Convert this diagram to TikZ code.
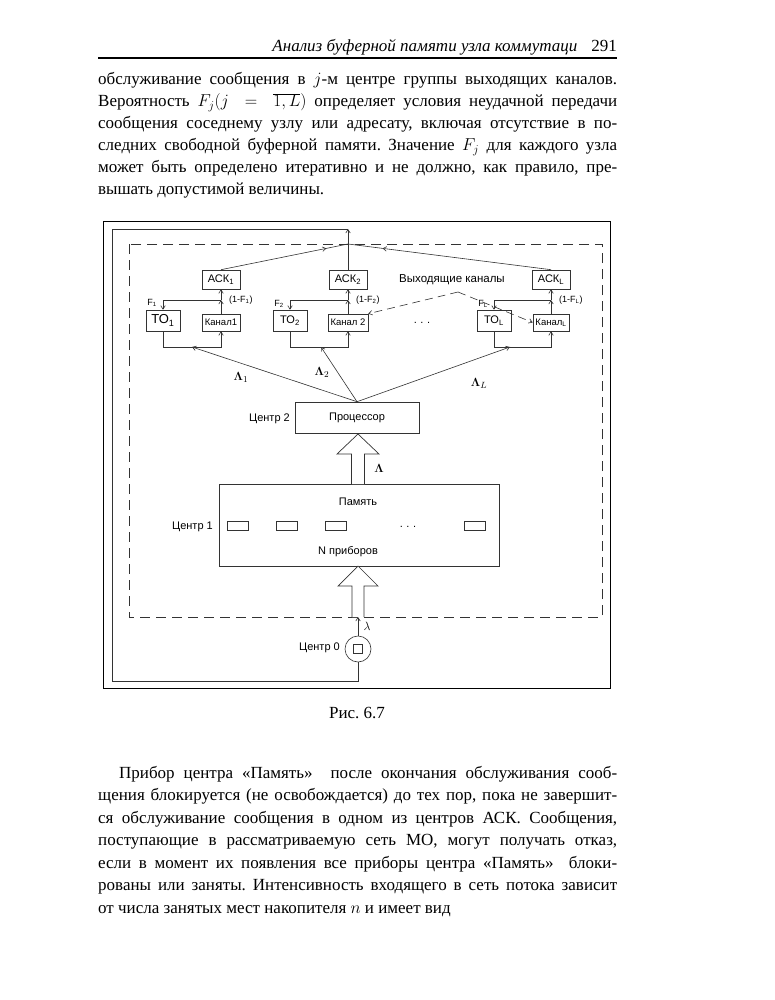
\documentclass[tikz,border=0pt]{standalone}
\usepackage[no-math]{fontspec}
\setmainfont{Liberation Serif}
\newfontfamily\dfont{Liberation Sans}
\usetikzlibrary{arrows.meta, positioning, decorations.markings}
\frenchspacing

\tikzset{
  ln/.style={line width=0.6pt, draw=black!80},
  arr/.style={ln, -{Straight Barb[length=3.5pt,width=4.5pt]}},
  midarr/.style={postaction={decorate}, decoration={markings, mark=at position #1 with {\arrow{Straight Barb[length=3.5pt,width=4.5pt]}}}},
  blk/.style={draw=black!80, line width=0.6pt, inner sep=0pt, font=\dfont\fontsize{11}{11}\selectfont},
  lbl/.style={inner sep=0pt, font=\dfont\fontsize{11}{11}\selectfont},
  small/.style={inner sep=0pt, font=\dfont\fontsize{9}{9}\selectfont},
  txt/.style={anchor=base west, inner sep=0pt, font=\fontsize{17}{22}\selectfont},
  fat/.style={draw=black!80, line width=0.7pt, fill=white},
}

\begin{document}
\begin{tikzpicture}[x=1pt, y=-1pt]
    % Page size
    \fill[white] (0,0) rectangle (774,1000);
    \useasboundingbox (0,0) rectangle (774,1000);
    \def\tw{519pt}

    % Running head
    \node[anchor=base east, inner sep=0pt, font=\fontsize{17}{22}\selectfont] (head) at (617,52)
        {\textit{Анализ буферной памяти узла коммутаци}\hspace{14pt}291};
    \draw[line width=1.2pt] (98,58) -- (617,58);

    % Text above the figure
    \node[txt] (p1) at (98,85) {\makebox[\tw][s]{обслуживание сообщения в $j$-м центре группы выходящих каналов.}};
    \node[txt] (p2) at (98,107) {\makebox[\tw][s]{Вероятность $F_j(j\,=\,\overline{1,L})$ определяет условия неудачной передачи}};
    \node[txt] (p3) at (98,129) {\makebox[\tw][s]{сообщения соседнему узлу или адресату, включая отсутствие в по-}};
    \node[txt] (p4) at (98,151) {\makebox[\tw][s]{следних свободной буферной памяти. Значение $F_j$ для каждого узла}};
    \node[txt] (p5) at (98,173) {\makebox[\tw][s]{может быть определено итеративно и не должно, как правило, пре-}};
    \node[txt] (p6) at (98,195) {вышать допустимой величины.};

    % Figure frame and the dashed network border
    \draw[line width=1pt] (103,222) rectangle (610,688);
    \draw[ln, dash pattern=on 10pt off 6pt] (129,244) rectangle (602,617);

    % Output channels: ACK, TO and channel boxes
    \node[blk, minimum width=38pt, minimum height=19pt] (A1) at (221,279.5) {АСК\textsubscript{1}};
    \node[blk, minimum width=38pt, minimum height=19pt] (A2) at (348,279.5) {АСК\textsubscript{2}};
    \node[blk, minimum width=38pt, minimum height=19pt] (AL) at (551,279.5) {АСК\textsubscript{L}};
    \node[blk, minimum width=34pt, minimum height=21pt, font=\dfont\fontsize{13}{13}\selectfont] (T1) at (163,320.5) {ТО\textsubscript{1}};
    \node[blk, minimum width=34pt, minimum height=21pt, font=\dfont\fontsize{11}{11}\selectfont] (T2) at (290,320.5) {ТО\textsubscript{2}};
    \node[blk, minimum width=34pt, minimum height=21pt, font=\dfont\fontsize{11}{11}\selectfont] (TL) at (494,320.5) {ТО\textsubscript{L}};
    \node[blk, minimum width=38pt, minimum height=17pt, font=\dfont\fontsize{9.5}{9.5}\selectfont] (K1) at (221,322.5) {Канал1};
    \node[blk, minimum width=40pt, minimum height=17pt, font=\dfont\fontsize{9.5}{9.5}\selectfont] (K2) at (348,322.5) {Канал 2};
    \node[blk, minimum width=36pt, minimum height=17pt, font=\dfont\fontsize{9.5}{9.5}\selectfont] (KL) at (551,322.5) {Канал\textsubscript{L}};
    \node[inner sep=0pt, font=\dfont\fontsize{11}{11}\selectfont] (dots1) at (422,323) {.\,\,.\,\,.};

    % Branch points of the feedback F_j
    \coordinate (b1) at (221,300);
    \coordinate (b2) at (348,300);
    \coordinate (bL) at (551,300);
    \draw[arr] (K1.north) -- (b1);
    \draw[arr] (b1) -- (A1.south);
    \draw[arr] (b1) -| (T1.north);
    \draw[arr] (K2.north) -- (b2);
    \draw[arr] (b2) -- (A2.south);
    \draw[arr] (b2) -| (T2.north);
    \draw[arr] (KL.north) -- (bL);
    \draw[arr] (bL) -- (AL.south);
    \draw[arr] (bL) -| (TL.north);
    \node[small] (f1) at (152,303) {F\textsubscript{1}};
    \node[small] (f2) at (279,304) {F\textsubscript{2}};
    \node[small] (fL) at (483,304) {F\textsubscript{L}};
    \node[small, anchor=west] (g1) at (229,300) {(1-F\textsubscript{1})};
    \node[small, anchor=west] (g2) at (356,300) {(1-F\textsubscript{2})};
    \node[small, anchor=west] (gL) at (559,300) {(1-F\textsubscript{L})};

    % Lines below TO and channel boxes
    \draw[arr] (T1.south) -- ++(0,16) -| (K1.south);
    \draw[arr] (T2.south) -- ++(0,16) -| (K2.south);
    \draw[arr] (TL.south) -- ++(0,16) -| (KL.south);
    \coordinate (j1) at (192,347);
    \coordinate (j2) at (321,347);
    \coordinate (jL) at (510,347);

    % Collecting point and the return loop
    \coordinate (C) at (348,244);
    \coordinate (top) at (348,229);
    \draw[ln, midarr=0.83] (A1.north) -- (C);
    \draw[ln] (A2.north) -- (C);
    \draw[ln, midarr=0.83] (AL.north) -- (C);
    \draw[arr] (C) -- (top);

    % Label of the output channels
    \node[lbl, font=\dfont\fontsize{11.5}{11.5}\selectfont] (out) at (452,280) {Выходящие каналы};
    \coordinate (ap) at (458,292);
    \draw[arr, dash pattern=on 8pt off 5pt] (ap) -- (K2.north east);
    \draw[arr, dash pattern=on 8pt off 5pt] (ap) -- (KL.west);

    % Processor
    \node[blk, minimum width=124pt, minimum height=31pt] (P) at (357,417.5) {Процессор};
    \node[lbl, anchor=east] (c2) at (290,419) {Центр 2};
    \draw[arr] (P.north) -- (j1);
    \draw[arr] (P.north) -- (j2);
    \draw[arr] (P.north) -- (jL);
    \node[inner sep=0pt, font=\fontsize{13}{13}\selectfont] (L1) at (241,377) {$\mathbf{\Lambda}_1$};
    \node[inner sep=0pt, font=\fontsize{13}{13}\selectfont] (L2) at (322,372) {$\mathbf{\Lambda}_2$};
    \node[inner sep=0pt, font=\fontsize{13}{13}\selectfont] (LL) at (479,383) {$\mathbf{\Lambda}_L$};

    % Memory with N devices
    \node[blk, minimum width=280pt, minimum height=82pt] (M) at (359,525) {};
    \node[lbl] (mem) at (358,502) {Память};
    \node[lbl] (ndev) at (348,552) {N приборов};
    \node[lbl, anchor=east] (c1) at (213,527) {Центр 1};
    \node[blk, minimum width=21pt, minimum height=9pt] (m1) at (237.5,525.5) {};
    \node[blk, minimum width=21pt, minimum height=9pt] (m2) at (286.5,525.5) {};
    \node[blk, minimum width=21pt, minimum height=9pt] (m3) at (336,525.5) {};
    \node[blk, minimum width=21pt, minimum height=9pt] (mN) at (475,525.5) {};
    \node[lbl] (dots2) at (408,527) {.\,\,.\,\,.};

    % Wide arrows
    \draw[fat] (351.5,484) -- (351.5,454) -- (337,454) -- (358,434) -- (379,454) -- (364.5,454) -- (364.5,484);
    \node[inner sep=0pt, font=\fontsize{13}{13}\selectfont] (LA) at (379,468) {$\mathbf{\Lambda}$};
    \draw[fat] (352,617) -- (352,586) -- (338,586) -- (358,566) -- (378,586) -- (364,586) -- (364,617);

    % Source
    \node[draw=black!80, line width=0.6pt, circle, minimum size=26pt, inner sep=0pt] (c0) at (358,649) {};
    \node[draw=black!80, line width=0.6pt, minimum size=9pt, inner sep=0pt] (sq) at (c0) {};
    \node[lbl, anchor=east] (cz) at (340,648) {Центр 0};
    \coordinate (in0) at (358,617);
    \draw[arr] (c0.north) -- (in0);
    \node[inner sep=0pt, font=\fontsize{13}{13}\selectfont] (lam) at (367,626) {$\lambda$};
    \draw[ln, line width=0.8pt] (c0.south) -- (358,681) -- (112,681) -- (112,229) -- (top);

    % Caption
    \node[anchor=base, inner sep=0pt, font=\fontsize{17}{22}\selectfont] (cap) at (357,718) {Рис. 6.7};

    % Text below the figure
    \node[txt] (q1) at (119,778) {\makebox[498pt][s]{Прибор центра «Память»\ \ после окончания обслуживания сооб-}};
    \node[txt] (q2) at (98,800.5) {\makebox[\tw][s]{щения блокируется (не освобождается) до тех пор, пока не завершит-}};
    \node[txt] (q3) at (98,823) {\makebox[\tw][s]{ся обслуживание сообщения в одном из центров АСК. Сообщения,}};
    \node[txt] (q4) at (98,845.5) {\makebox[\tw][s]{поступающие в рассматриваемую сеть МО, могут получать отказ,}};
    \node[txt] (q5) at (98,868) {\makebox[\tw][s]{если в момент их появления все приборы центра «Память»\ \ блоки-}};
    \node[txt] (q6) at (98,890.5) {\makebox[\tw][s]{рованы или заняты. Интенсивность входящего в сеть потока зависит}};
    \node[txt] (q7) at (98,913) {от числа занятых мест накопителя $n$ и имеет вид};
\end{tikzpicture}
\end{document}
